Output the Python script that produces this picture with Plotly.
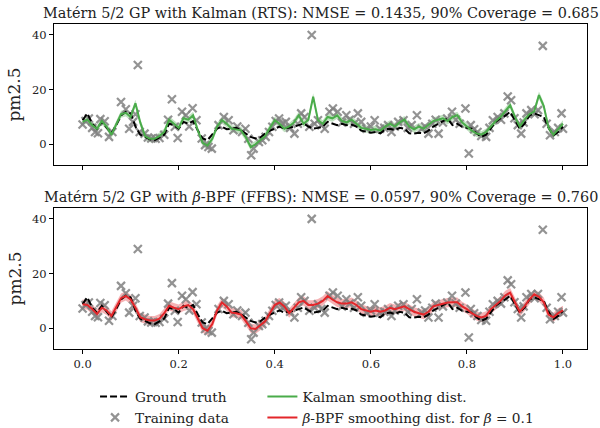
import numpy as np
import plotly.graph_objects as go

# Evaluation grid (normalised time)
t_grid = np.round(np.linspace(0.0, 1.0, 101), 2)

ground_truth = [
    8.8, 11.3, 7.5, 5.7, 8.2, 6.0, 4.0, 7.0, 10.5, 11.9,
    11.3, 6.5, 3.5, 2.7, 1.8, 1.5, 2.5, 3.5, 7.5, 7.0,
    5.7, 8.2, 7.5, 8.5, 5.0, 2.1, 1.5, 3.5, 5.7, 6.4,
    5.5, 5.7, 6.0, 5.1, 4.0, 2.7, 2.1, 2.5, 3.9, 5.0,
    5.7, 6.5, 5.7, 6.0, 6.4, 7.0, 7.6, 6.5, 5.7, 6.0,
    6.4, 8.2, 7.6, 7.0, 7.5, 7.0, 7.2, 6.5, 5.0, 4.5,
    4.2, 4.5, 4.0, 5.5, 5.7, 5.2, 6.0, 5.7, 4.0, 3.9,
    4.2, 4.0, 5.0, 6.5, 7.5, 8.5, 9.4, 7.0, 7.5, 6.4,
    6.0, 5.7, 4.0, 2.7, 3.5, 6.0, 8.2, 9.5, 10.5, 11.9,
    9.0, 5.7, 7.5, 10.5, 11.3, 10.5, 10.0, 6.0, 3.3, 4.5,
    6.4,
]

kalman_mean = [
    8.2, 9.0, 7.0, 5.7, 8.5, 6.5, 3.5, 7.5, 11.0, 11.5,
    10.0, 15.0, 8.0, 3.0, 2.0, 2.0, 3.0, 4.5, 9.0, 7.5,
    6.0, 9.5, 9.0, 10.6, 5.0, 0.5, -0.5, 2.0, 6.5, 8.8,
    7.5, 5.7, 5.5, 5.1, 2.5, -1.0, 0.0, 1.5, 3.0, 6.0,
    8.8, 7.5, 5.7, 6.5, 8.0, 10.6, 7.5, 9.0, 17.4, 8.8,
    7.5, 10.0, 9.5, 10.6, 8.5, 8.0, 9.0, 7.5, 6.0, 5.7,
    5.2, 5.5, 5.0, 6.5, 7.5, 6.5, 8.0, 9.0, 6.5, 5.5,
    6.5, 5.7, 7.0, 8.5, 9.0, 9.5, 8.5, 10.0, 10.6, 8.0,
    6.5, 5.0, 4.0, 3.5, 4.5, 6.5, 8.5, 10.0, 12.0, 14.3,
    10.0, 6.5, 9.0, 11.0, 12.0, 18.0, 14.0, 6.0, 3.5, 5.5,
    7.5,
]
kalman_halfwidth = 1.3

bpf_mean = [
    8.8, 8.5, 7.0, 5.2, 7.5, 6.5, 4.5, 7.5, 11.0, 11.8,
    10.5, 7.5, 4.0, 3.3, 2.8, 2.8, 3.5, 5.5, 8.2, 7.5,
    7.0, 8.0, 8.5, 7.0, 3.5, 0.0, -0.9, 1.5, 6.5, 9.4,
    8.0, 5.7, 5.5, 5.0, 2.5, 0.0, -0.3, 1.0, 2.5, 5.5,
    8.5, 9.4, 8.0, 5.5, 7.5, 9.5, 10.0, 8.5, 8.5, 9.0,
    10.0, 11.8, 10.5, 9.5, 9.0, 9.0, 9.5, 8.5, 7.0, 6.5,
    6.0, 6.5, 6.0, 6.5, 7.5, 7.0, 7.5, 8.0, 7.0, 6.0,
    5.5, 5.0, 6.0, 8.0, 8.5, 9.0, 9.4, 9.5, 9.5, 8.0,
    7.0, 5.5, 4.5, 3.9, 4.5, 7.0, 8.5, 10.0, 12.0, 13.0,
    9.5, 6.0, 8.0, 10.5, 12.4, 11.5, 9.5, 5.0, 4.0, 5.5,
    6.5,
]
bpf_halfwidth = 1.7

train_t = [
    0.000, 0.006, 0.013, 0.020, 0.026, 0.032, 0.037, 0.046, 0.055, 0.062,
    0.080, 0.090, 0.097, 0.105, 0.110, 0.115, 0.119, 0.129, 0.136, 0.143,
    0.152, 0.160, 0.170, 0.178, 0.186, 0.192, 0.198, 0.207, 0.215, 0.222,
    0.229, 0.237, 0.248, 0.255, 0.262, 0.269, 0.283, 0.294, 0.304, 0.314,
    0.322, 0.332, 0.339, 0.345, 0.351, 0.356, 0.367, 0.374, 0.381, 0.388,
    0.395, 0.402, 0.409, 0.416, 0.423, 0.432, 0.441, 0.448, 0.455, 0.462,
    0.472, 0.477, 0.483, 0.490, 0.497, 0.504, 0.514, 0.521, 0.531, 0.540,
    0.549, 0.556, 0.565, 0.573, 0.580, 0.591, 0.600, 0.608, 0.619, 0.628,
    0.636, 0.643, 0.650, 0.657, 0.668, 0.677, 0.685, 0.696, 0.706, 0.713,
    0.720, 0.728, 0.735, 0.741, 0.750, 0.759, 0.769, 0.777, 0.785, 0.797,
    0.804, 0.808, 0.815, 0.822, 0.830, 0.840, 0.847, 0.854, 0.864, 0.871,
    0.878, 0.885, 0.892, 0.899, 0.906, 0.913, 0.918, 0.924, 0.934, 0.941,
    0.948, 0.958, 0.966, 0.973, 0.983, 0.990, 0.997, 1.000,
]
train_y = [
    7.2, 8.5, 9.4, 6.0, 4.5, 4.0, 9.2, 8.4, 2.7, 4.5,
    15.5, 12.8, 5.7, 8.2, 11.0, 29.0, 4.5, 3.9, 2.5, 2.1,
    2.0, 2.3, 3.5, 9.0, 16.5, 6.4, 2.3, 11.9, 10.6, 6.5,
    13.2, 8.8, 2.1, -0.3, -1.0, -1.6, 7.0, 10.0, 8.8, 5.1,
    6.5, 4.5, 5.7, 2.0, -4.0, -1.6, 0.8, 1.5, 2.7, 4.5,
    6.4, 8.5, 9.4, 7.5, 8.2, 6.0, 3.9, 7.5, 11.3, 10.0,
    6.4, 40.0, 7.5, 8.8, 7.0, 5.7, 11.9, 13.1, 11.9, 8.0,
    10.6, 9.0, 7.5, 11.3, 8.2, 5.7, 6.5, 8.8, 5.7, 6.0,
    7.0, 4.5, 6.5, 8.2, 8.8, 6.0, 7.0, 10.6, 5.7, 6.5,
    3.9, 7.5, 9.0, 3.9, 8.0, 9.4, 11.9, 9.0, 7.5, 13.1,
    -3.4, 7.0, 5.5, 4.5, 3.0, 2.7, 6.0, 8.8, 10.0, 9.0,
    11.3, 17.5, 16.1, 9.5, 7.0, 3.9, 8.0, 11.3, 12.5, 11.0,
    12.5, 36.0, 7.5, 3.3, 4.5, 6.0, 11.3, 5.7,
]

titles = [
    "Matérn 5/2 GP with Kalman (RTS): NMSE = 0.1435, 90% Coverage = 0.685",
    "Matérn 5/2 GP with <i>β</i>-BPF (FFBS): NMSE = 0.0597, 90% Coverage = 0.760",
]
x_ticks = [0.0, 0.2, 0.4, 0.6, 0.8, 1.0]
y_ticks = [0, 20, 40]

FONT = "DejaVu Serif"
GREEN = "#4aac4a"
GREEN_BAND = "rgba(74,172,74,0.35)"
RED = "#e3262a"
RED_BAND = "rgba(227,38,42,0.35)"
GREY = "rgba(128,128,128,0.85)"

fig = go.Figure()

panels = [
    ("x", "y", kalman_mean, kalman_halfwidth, GREEN, GREEN_BAND, "Kalman smoothing dist."),
    ("x2", "y2", bpf_mean, bpf_halfwidth, RED, RED_BAND,
     "<i>β</i>-BPF smoothing dist. for <i>β</i> = 0.1"),
]

for i, (xa, ya, mean, hw, col, band, name) in enumerate(panels):
    mean = np.asarray(mean)
    lo = mean - hw
    hi = mean + hw
    fig.add_trace(go.Scatter(
        x=np.concatenate([t_grid, t_grid[::-1]]),
        y=np.concatenate([hi, lo[::-1]]),
        fill="toself", fillcolor=band, line=dict(width=0),
        mode="lines", hoverinfo="skip", showlegend=False,
        xaxis=xa, yaxis=ya,
    ))
    fig.add_trace(go.Scatter(
        x=train_t, y=train_y, mode="markers",
        marker=dict(symbol="x-thin", size=8, line=dict(color=GREY, width=2.2)),
        name="Training data", showlegend=(i == 0), legend="legend", legendrank=2,
        xaxis=xa, yaxis=ya,
    ))
    fig.add_trace(go.Scatter(
        x=t_grid, y=ground_truth, mode="lines",
        line=dict(color="black", width=2, dash="7px,3px"),
        name="Ground truth", showlegend=(i == 0), legend="legend", legendrank=1,
        xaxis=xa, yaxis=ya,
    ))
    fig.add_trace(go.Scatter(
        x=t_grid, y=mean, mode="lines",
        line=dict(color=col, width=2),
        name=name, showlegend=True, legend="legend2", legendrank=i + 1,
        xaxis=xa, yaxis=ya,
    ))

axis_common = dict(
    showline=True, linecolor="black", linewidth=1.2, mirror=True,
    ticks="outside", ticklen=4, tickwidth=1, tickcolor="black",
    showgrid=False, zeroline=False,
    tickfont=dict(family=FONT, size=11.5, color="#222"),
)

x_range = [-0.0595, 1.05]
y_range = [-7.6, 44.0]

legend_common = dict(
    orientation="v", yanchor="top", xanchor="left", y=-0.099,
    traceorder="normal", tracegroupgap=0,
    font=dict(family=FONT, size=13.7, color="#222"),
    bgcolor="rgba(0,0,0,0)",
)

ylabel = dict(text="pm2.5", font=dict(family=FONT, size=17, color="#222"), standoff=6)

fig.update_layout(
    width=600, height=428,
    margin=dict(l=54, r=13, t=24, b=79, autoexpand=False),
    paper_bgcolor="white", plot_bgcolor="white",
    font=dict(family=FONT, color="#222"),
    xaxis=dict(domain=[0, 1], anchor="y", range=x_range, tickvals=x_ticks,
               showticklabels=False, **axis_common),
    yaxis=dict(domain=[0.566, 1.0], anchor="x", range=y_range, tickvals=y_ticks,
               title=ylabel, **axis_common),
    xaxis2=dict(domain=[0, 1], anchor="y2", range=x_range, tickvals=x_ticks,
                tickformat=".1f", **axis_common),
    yaxis2=dict(domain=[0.0, 0.434], anchor="x2", range=y_range, tickvals=y_ticks,
                title=ylabel, **axis_common),
    legend=dict(x=0.077, **legend_common),
    legend2=dict(x=0.391, **legend_common),
    showlegend=True,
)

for ttl, ydom in zip(titles, [1.0, 0.434]):
    fig.add_annotation(
        text=ttl, x=0.5, y=ydom, xref="paper", yref="paper",
        xanchor="center", yanchor="bottom", yshift=1, showarrow=False,
        font=dict(family=FONT, size=14.4, color="#222"),
    )

fig.write_html("out.html")
